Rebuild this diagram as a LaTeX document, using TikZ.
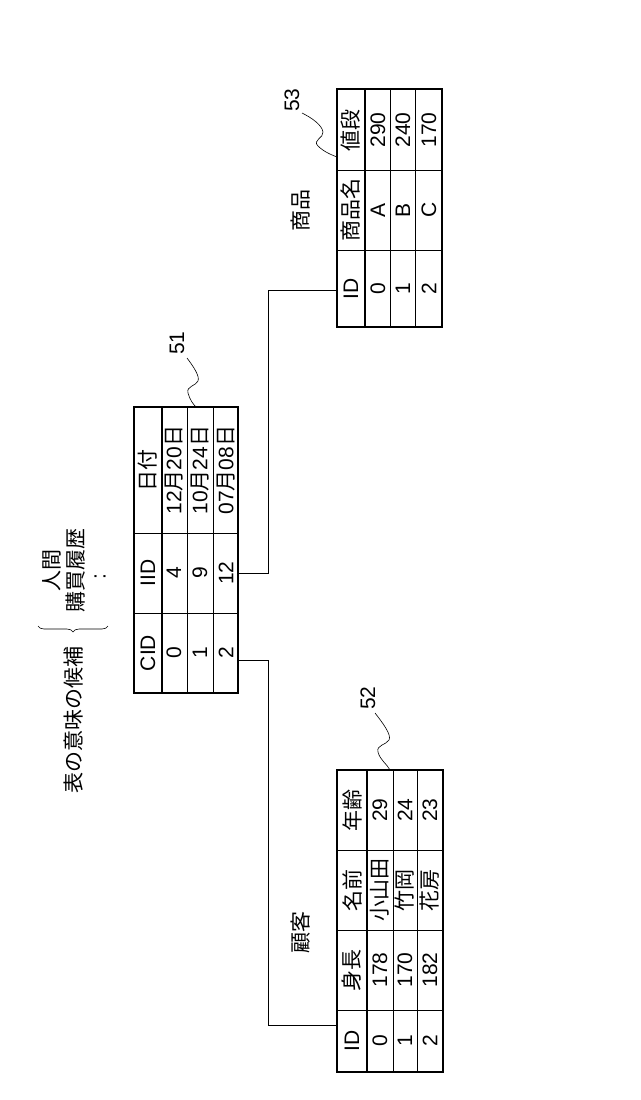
\documentclass[tikz,border=0pt]{standalone}
\usepackage{fontspec}
\setmainfont{Liberation Sans}
\newfontfamily\jp{Noto Sans CJK JP}
\usetikzlibrary{decorations.pathreplacing}
\tikzset{
 t/.style={rotate=90,font=\fontsize{21}{21}\selectfont,inner sep=0pt},
 outer/.style={line width=2.6pt},
 inner/.style={line width=0.6pt},
 conn/.style={line width=1pt},
}
\newcommand{\J}[1]{{\jp #1}}
\begin{document}
\begin{tikzpicture}[x=1pt,y=-1pt]
\useasboundingbox (0,0) rectangle (640,1100);
% ---- table 53
\draw[inner] (390,89)--(390,327) (415,89)--(415,327) (337,170)--(442,170) (337,250)--(442,250);
\draw[outer] (365,89)--(365,327);
\draw[outer] (337,89) rectangle (442,327);
\foreach \x/\a/\b/\c in {351/ID/\J{商品名}/\J{値段},378/0/A/290,403/1/B/240,429/2/C/170}{
 \node[t] at (\x,289) {\a}; \node[t] at (\x,210) {\b}; \node[t] at (\x,130) {\c};}
\node[t] (l53) at (292,100) {53};
\node[t] (g53) at (301,210) {\J{商品}};
\draw[inner] (302,113) .. controls (312,118) and (322,125) .. (323,132) .. controls (324,138) and (312,140) .. (318,146) .. controls (324,152) and (332,155) .. (337,157);
% ---- table 51
\draw[inner] (187,407)--(187,693) (213,407)--(213,693) (134,533)--(238,533) (134,613)--(238,613);
\draw[outer] (162,407)--(162,693);
\draw[outer] (134,407) rectangle (238,693);
\foreach \x/\a/\b/\c in {148/CID/IID/\J{日付},174/0/4/12\J{月}20\J{日},200/1/9/10\J{月}24\J{日},226/2/12/07\J{月}08\J{日}}{
 \node[t] at (\x,653) {\a}; \node[t] at (\x,573) {\b}; \node[t] at (\x,470) {\c};}
\node[t] (l51) at (177,343) {51};
\draw[inner] (187,358) .. controls (193,366) and (200,376) .. (198,381) .. controls (196,386) and (186,386) .. (188,393) .. controls (190,400) and (193,404) .. (196,407);
% ---- table 52
\draw[inner] (393,770)--(393,1072) (417,770)--(417,1072) (337,850)--(443,850) (337,930)--(443,930) (337,1010)--(443,1010);
\draw[outer] (367,770)--(367,1072);
\draw[outer] (337,770) rectangle (443,1072);
\foreach \x/\a/\b/\c/\d in {352/ID/\J{身長}/\J{名前}/\J{年齢},380/0/178/\J{小山田}/29,405/1/170/\J{竹岡}/24,430/2/182/\J{花房}/23}{
 \node[t] at (\x,1041) {\a}; \node[t] at (\x,970) {\b}; \node[t] at (\x,890) {\c}; \node[t] at (\x,810) {\d};}
\node[t] (l52) at (368,698) {52};
\draw[inner] (375,713) .. controls (382,722) and (392,735) .. (389,740) .. controls (386,745) and (376,745) .. (378,752) .. controls (380,760) and (387,764) .. (390,770);
\node[t] (g52) at (301,932) {\J{顧客}};
% ---- connectors
\coordinate (a1) at (238,573); \coordinate (a2) at (337,290);
\coordinate (b1) at (238,660); \coordinate (b2) at (337,1025);
\draw[conn] (a1)--(268,573)--(268,290)--(a2);
\draw[conn] (b1)--(268,660)--(268,1025)--(b2);
% ---- left annotation
\node[t] (m) at (74,720) {\J{表の意味の候補}};
\node[t] (c1) at (52,570) {\J{人間}};
\node[t] (c2) at (76,570) {\J{購買履歴}};
\node[t] (c3) at (100,577) {:};
\draw[inner,decorate,decoration={brace,amplitude=6pt,aspect=0.5}] (108,626) -- (38,626);
\end{tikzpicture}
\end{document}
